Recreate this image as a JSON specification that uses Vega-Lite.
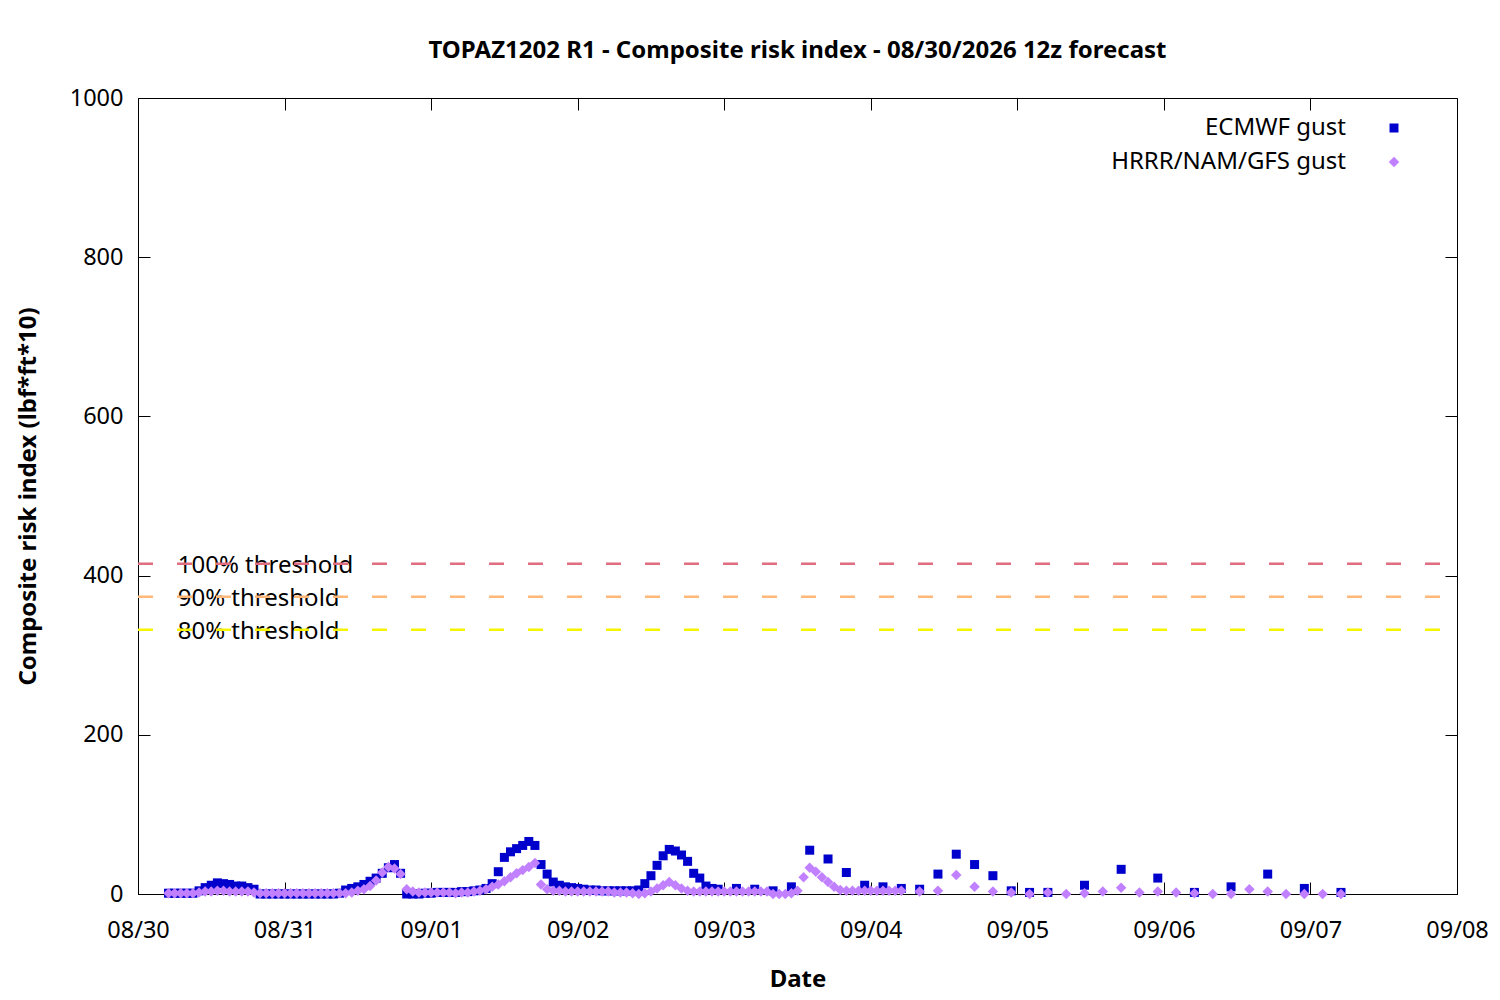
{
  "$schema": "https://vega.github.io/schema/vega-lite/v6.json",
  "title": {
    "text": "TOPAZ1202 R1 - Composite risk index - 08/30/2026 12z forecast",
    "font": "Noto Sans",
    "fontSize": 24,
    "fontWeight": "bold",
    "color": "black",
    "anchor": "middle",
    "offset": 23
  },
  "background": "white",
  "autosize": "none",
  "padding": {"left": 138, "top": 98, "right": 43, "bottom": 106},
  "width": 1319,
  "height": 796,
  "config": {
    "view": {"stroke": "black", "strokeWidth": 1},
    "axis": {
      "labelFont": "Noto Sans",
      "labelFontSize": 23.5,
      "labelColor": "black",
      "titleFont": "Noto Sans",
      "titleFontSize": 24,
      "titleFontWeight": "bold",
      "titleColor": "black",
      "domainColor": "black",
      "tickColor": "black",
      "tickSize": -12,
      "grid": false
    }
  },
  "datasets": {
    "gust": [
      {"t": "2026-08-30T05:00", "m": "ECMWF gust", "v": 1},
      {"t": "2026-08-30T06:00", "m": "ECMWF gust", "v": 1},
      {"t": "2026-08-30T07:00", "m": "ECMWF gust", "v": 1},
      {"t": "2026-08-30T08:00", "m": "ECMWF gust", "v": 1},
      {"t": "2026-08-30T09:00", "m": "ECMWF gust", "v": 1},
      {"t": "2026-08-30T10:00", "m": "ECMWF gust", "v": 4},
      {"t": "2026-08-30T11:00", "m": "ECMWF gust", "v": 8},
      {"t": "2026-08-30T12:00", "m": "ECMWF gust", "v": 11},
      {"t": "2026-08-30T13:00", "m": "ECMWF gust", "v": 14},
      {"t": "2026-08-30T14:00", "m": "ECMWF gust", "v": 13},
      {"t": "2026-08-30T15:00", "m": "ECMWF gust", "v": 12},
      {"t": "2026-08-30T16:00", "m": "ECMWF gust", "v": 10},
      {"t": "2026-08-30T17:00", "m": "ECMWF gust", "v": 10},
      {"t": "2026-08-30T18:00", "m": "ECMWF gust", "v": 8},
      {"t": "2026-08-30T19:00", "m": "ECMWF gust", "v": 6},
      {"t": "2026-08-30T20:00", "m": "ECMWF gust", "v": 0},
      {"t": "2026-08-30T21:00", "m": "ECMWF gust", "v": 0},
      {"t": "2026-08-30T22:00", "m": "ECMWF gust", "v": 0},
      {"t": "2026-08-30T23:00", "m": "ECMWF gust", "v": 0},
      {"t": "2026-08-31T00:00", "m": "ECMWF gust", "v": 0},
      {"t": "2026-08-31T01:00", "m": "ECMWF gust", "v": 0},
      {"t": "2026-08-31T02:00", "m": "ECMWF gust", "v": 0},
      {"t": "2026-08-31T03:00", "m": "ECMWF gust", "v": 0},
      {"t": "2026-08-31T04:00", "m": "ECMWF gust", "v": 0},
      {"t": "2026-08-31T05:00", "m": "ECMWF gust", "v": 0},
      {"t": "2026-08-31T06:00", "m": "ECMWF gust", "v": 0},
      {"t": "2026-08-31T07:00", "m": "ECMWF gust", "v": 0},
      {"t": "2026-08-31T08:00", "m": "ECMWF gust", "v": 0},
      {"t": "2026-08-31T09:00", "m": "ECMWF gust", "v": 1},
      {"t": "2026-08-31T10:00", "m": "ECMWF gust", "v": 5},
      {"t": "2026-08-31T11:00", "m": "ECMWF gust", "v": 7},
      {"t": "2026-08-31T12:00", "m": "ECMWF gust", "v": 9},
      {"t": "2026-08-31T13:00", "m": "ECMWF gust", "v": 12},
      {"t": "2026-08-31T14:00", "m": "ECMWF gust", "v": 16},
      {"t": "2026-08-31T15:00", "m": "ECMWF gust", "v": 20},
      {"t": "2026-08-31T16:00", "m": "ECMWF gust", "v": 26},
      {"t": "2026-08-31T17:00", "m": "ECMWF gust", "v": 33},
      {"t": "2026-08-31T18:00", "m": "ECMWF gust", "v": 37},
      {"t": "2026-08-31T19:00", "m": "ECMWF gust", "v": 26},
      {"t": "2026-08-31T20:00", "m": "ECMWF gust", "v": 0},
      {"t": "2026-08-31T21:00", "m": "ECMWF gust", "v": 0},
      {"t": "2026-08-31T22:00", "m": "ECMWF gust", "v": 0},
      {"t": "2026-08-31T23:00", "m": "ECMWF gust", "v": 1},
      {"t": "2026-09-01T00:00", "m": "ECMWF gust", "v": 1},
      {"t": "2026-09-01T01:00", "m": "ECMWF gust", "v": 2},
      {"t": "2026-09-01T02:00", "m": "ECMWF gust", "v": 2},
      {"t": "2026-09-01T03:00", "m": "ECMWF gust", "v": 2},
      {"t": "2026-09-01T04:00", "m": "ECMWF gust", "v": 2},
      {"t": "2026-09-01T05:00", "m": "ECMWF gust", "v": 3},
      {"t": "2026-09-01T06:00", "m": "ECMWF gust", "v": 3},
      {"t": "2026-09-01T07:00", "m": "ECMWF gust", "v": 4},
      {"t": "2026-09-01T08:00", "m": "ECMWF gust", "v": 5},
      {"t": "2026-09-01T09:00", "m": "ECMWF gust", "v": 7},
      {"t": "2026-09-01T10:00", "m": "ECMWF gust", "v": 13},
      {"t": "2026-09-01T11:00", "m": "ECMWF gust", "v": 28},
      {"t": "2026-09-01T12:00", "m": "ECMWF gust", "v": 46},
      {"t": "2026-09-01T13:00", "m": "ECMWF gust", "v": 53},
      {"t": "2026-09-01T14:00", "m": "ECMWF gust", "v": 57},
      {"t": "2026-09-01T15:00", "m": "ECMWF gust", "v": 61},
      {"t": "2026-09-01T16:00", "m": "ECMWF gust", "v": 66},
      {"t": "2026-09-01T17:00", "m": "ECMWF gust", "v": 61},
      {"t": "2026-09-01T18:00", "m": "ECMWF gust", "v": 37},
      {"t": "2026-09-01T19:00", "m": "ECMWF gust", "v": 25},
      {"t": "2026-09-01T20:00", "m": "ECMWF gust", "v": 15},
      {"t": "2026-09-01T21:00", "m": "ECMWF gust", "v": 11},
      {"t": "2026-09-01T22:00", "m": "ECMWF gust", "v": 9},
      {"t": "2026-09-01T23:00", "m": "ECMWF gust", "v": 8},
      {"t": "2026-09-02T00:00", "m": "ECMWF gust", "v": 7},
      {"t": "2026-09-02T01:00", "m": "ECMWF gust", "v": 6},
      {"t": "2026-09-02T02:00", "m": "ECMWF gust", "v": 5},
      {"t": "2026-09-02T03:00", "m": "ECMWF gust", "v": 5},
      {"t": "2026-09-02T04:00", "m": "ECMWF gust", "v": 4},
      {"t": "2026-09-02T05:00", "m": "ECMWF gust", "v": 4},
      {"t": "2026-09-02T06:00", "m": "ECMWF gust", "v": 4},
      {"t": "2026-09-02T07:00", "m": "ECMWF gust", "v": 4},
      {"t": "2026-09-02T08:00", "m": "ECMWF gust", "v": 4},
      {"t": "2026-09-02T09:00", "m": "ECMWF gust", "v": 4},
      {"t": "2026-09-02T10:00", "m": "ECMWF gust", "v": 5},
      {"t": "2026-09-02T11:00", "m": "ECMWF gust", "v": 13},
      {"t": "2026-09-02T12:00", "m": "ECMWF gust", "v": 23},
      {"t": "2026-09-02T13:00", "m": "ECMWF gust", "v": 36},
      {"t": "2026-09-02T14:00", "m": "ECMWF gust", "v": 48},
      {"t": "2026-09-02T15:00", "m": "ECMWF gust", "v": 56},
      {"t": "2026-09-02T16:00", "m": "ECMWF gust", "v": 54},
      {"t": "2026-09-02T17:00", "m": "ECMWF gust", "v": 49},
      {"t": "2026-09-02T18:00", "m": "ECMWF gust", "v": 41},
      {"t": "2026-09-02T19:00", "m": "ECMWF gust", "v": 26},
      {"t": "2026-09-02T20:00", "m": "ECMWF gust", "v": 20},
      {"t": "2026-09-02T21:00", "m": "ECMWF gust", "v": 10},
      {"t": "2026-09-02T22:00", "m": "ECMWF gust", "v": 7},
      {"t": "2026-09-02T23:00", "m": "ECMWF gust", "v": 6},
      {"t": "2026-09-03T02:00", "m": "ECMWF gust", "v": 7},
      {"t": "2026-09-03T05:00", "m": "ECMWF gust", "v": 6},
      {"t": "2026-09-03T08:00", "m": "ECMWF gust", "v": 4},
      {"t": "2026-09-03T11:00", "m": "ECMWF gust", "v": 9},
      {"t": "2026-09-03T14:00", "m": "ECMWF gust", "v": 55},
      {"t": "2026-09-03T17:00", "m": "ECMWF gust", "v": 44},
      {"t": "2026-09-03T20:00", "m": "ECMWF gust", "v": 27},
      {"t": "2026-09-03T23:00", "m": "ECMWF gust", "v": 11},
      {"t": "2026-09-04T02:00", "m": "ECMWF gust", "v": 9},
      {"t": "2026-09-04T05:00", "m": "ECMWF gust", "v": 7},
      {"t": "2026-09-04T08:00", "m": "ECMWF gust", "v": 6},
      {"t": "2026-09-04T11:00", "m": "ECMWF gust", "v": 25},
      {"t": "2026-09-04T14:00", "m": "ECMWF gust", "v": 50},
      {"t": "2026-09-04T17:00", "m": "ECMWF gust", "v": 37},
      {"t": "2026-09-04T20:00", "m": "ECMWF gust", "v": 23},
      {"t": "2026-09-04T23:00", "m": "ECMWF gust", "v": 4},
      {"t": "2026-09-05T02:00", "m": "ECMWF gust", "v": 2},
      {"t": "2026-09-05T05:00", "m": "ECMWF gust", "v": 2},
      {"t": "2026-09-05T11:00", "m": "ECMWF gust", "v": 11},
      {"t": "2026-09-05T17:00", "m": "ECMWF gust", "v": 31},
      {"t": "2026-09-05T23:00", "m": "ECMWF gust", "v": 20},
      {"t": "2026-09-06T05:00", "m": "ECMWF gust", "v": 2},
      {"t": "2026-09-06T11:00", "m": "ECMWF gust", "v": 9},
      {"t": "2026-09-06T17:00", "m": "ECMWF gust", "v": 25},
      {"t": "2026-09-06T23:00", "m": "ECMWF gust", "v": 7},
      {"t": "2026-09-07T05:00", "m": "ECMWF gust", "v": 2},
      {"t": "2026-08-30T05:00", "m": "HRRR/NAM/GFS gust", "v": 1},
      {"t": "2026-08-30T06:00", "m": "HRRR/NAM/GFS gust", "v": 1},
      {"t": "2026-08-30T07:00", "m": "HRRR/NAM/GFS gust", "v": 1},
      {"t": "2026-08-30T08:00", "m": "HRRR/NAM/GFS gust", "v": 1},
      {"t": "2026-08-30T09:00", "m": "HRRR/NAM/GFS gust", "v": 1},
      {"t": "2026-08-30T10:00", "m": "HRRR/NAM/GFS gust", "v": 2},
      {"t": "2026-08-30T11:00", "m": "HRRR/NAM/GFS gust", "v": 3},
      {"t": "2026-08-30T12:00", "m": "HRRR/NAM/GFS gust", "v": 3},
      {"t": "2026-08-30T13:00", "m": "HRRR/NAM/GFS gust", "v": 4},
      {"t": "2026-08-30T14:00", "m": "HRRR/NAM/GFS gust", "v": 4},
      {"t": "2026-08-30T15:00", "m": "HRRR/NAM/GFS gust", "v": 3},
      {"t": "2026-08-30T16:00", "m": "HRRR/NAM/GFS gust", "v": 3},
      {"t": "2026-08-30T17:00", "m": "HRRR/NAM/GFS gust", "v": 3},
      {"t": "2026-08-30T18:00", "m": "HRRR/NAM/GFS gust", "v": 3},
      {"t": "2026-08-30T19:00", "m": "HRRR/NAM/GFS gust", "v": 2},
      {"t": "2026-08-30T20:00", "m": "HRRR/NAM/GFS gust", "v": 1},
      {"t": "2026-08-30T21:00", "m": "HRRR/NAM/GFS gust", "v": 1},
      {"t": "2026-08-30T22:00", "m": "HRRR/NAM/GFS gust", "v": 1},
      {"t": "2026-08-30T23:00", "m": "HRRR/NAM/GFS gust", "v": 1},
      {"t": "2026-08-31T00:00", "m": "HRRR/NAM/GFS gust", "v": 1},
      {"t": "2026-08-31T01:00", "m": "HRRR/NAM/GFS gust", "v": 1},
      {"t": "2026-08-31T02:00", "m": "HRRR/NAM/GFS gust", "v": 1},
      {"t": "2026-08-31T03:00", "m": "HRRR/NAM/GFS gust", "v": 1},
      {"t": "2026-08-31T04:00", "m": "HRRR/NAM/GFS gust", "v": 1},
      {"t": "2026-08-31T05:00", "m": "HRRR/NAM/GFS gust", "v": 1},
      {"t": "2026-08-31T06:00", "m": "HRRR/NAM/GFS gust", "v": 1},
      {"t": "2026-08-31T07:00", "m": "HRRR/NAM/GFS gust", "v": 1},
      {"t": "2026-08-31T08:00", "m": "HRRR/NAM/GFS gust", "v": 1},
      {"t": "2026-08-31T09:00", "m": "HRRR/NAM/GFS gust", "v": 1},
      {"t": "2026-08-31T10:00", "m": "HRRR/NAM/GFS gust", "v": 1},
      {"t": "2026-08-31T11:00", "m": "HRRR/NAM/GFS gust", "v": 2},
      {"t": "2026-08-31T12:00", "m": "HRRR/NAM/GFS gust", "v": 4},
      {"t": "2026-08-31T13:00", "m": "HRRR/NAM/GFS gust", "v": 6},
      {"t": "2026-08-31T14:00", "m": "HRRR/NAM/GFS gust", "v": 10},
      {"t": "2026-08-31T15:00", "m": "HRRR/NAM/GFS gust", "v": 17},
      {"t": "2026-08-31T16:00", "m": "HRRR/NAM/GFS gust", "v": 27},
      {"t": "2026-08-31T17:00", "m": "HRRR/NAM/GFS gust", "v": 34},
      {"t": "2026-08-31T18:00", "m": "HRRR/NAM/GFS gust", "v": 32},
      {"t": "2026-08-31T19:00", "m": "HRRR/NAM/GFS gust", "v": 25},
      {"t": "2026-08-31T20:00", "m": "HRRR/NAM/GFS gust", "v": 6},
      {"t": "2026-08-31T21:00", "m": "HRRR/NAM/GFS gust", "v": 3},
      {"t": "2026-08-31T22:00", "m": "HRRR/NAM/GFS gust", "v": 2},
      {"t": "2026-08-31T23:00", "m": "HRRR/NAM/GFS gust", "v": 2},
      {"t": "2026-09-01T00:00", "m": "HRRR/NAM/GFS gust", "v": 2},
      {"t": "2026-09-01T01:00", "m": "HRRR/NAM/GFS gust", "v": 2},
      {"t": "2026-09-01T02:00", "m": "HRRR/NAM/GFS gust", "v": 2},
      {"t": "2026-09-01T03:00", "m": "HRRR/NAM/GFS gust", "v": 2},
      {"t": "2026-09-01T04:00", "m": "HRRR/NAM/GFS gust", "v": 1},
      {"t": "2026-09-01T05:00", "m": "HRRR/NAM/GFS gust", "v": 2},
      {"t": "2026-09-01T06:00", "m": "HRRR/NAM/GFS gust", "v": 2},
      {"t": "2026-09-01T07:00", "m": "HRRR/NAM/GFS gust", "v": 3},
      {"t": "2026-09-01T08:00", "m": "HRRR/NAM/GFS gust", "v": 4},
      {"t": "2026-09-01T09:00", "m": "HRRR/NAM/GFS gust", "v": 6},
      {"t": "2026-09-01T10:00", "m": "HRRR/NAM/GFS gust", "v": 9},
      {"t": "2026-09-01T11:00", "m": "HRRR/NAM/GFS gust", "v": 12},
      {"t": "2026-09-01T12:00", "m": "HRRR/NAM/GFS gust", "v": 16},
      {"t": "2026-09-01T13:00", "m": "HRRR/NAM/GFS gust", "v": 21},
      {"t": "2026-09-01T14:00", "m": "HRRR/NAM/GFS gust", "v": 26},
      {"t": "2026-09-01T15:00", "m": "HRRR/NAM/GFS gust", "v": 30},
      {"t": "2026-09-01T16:00", "m": "HRRR/NAM/GFS gust", "v": 34},
      {"t": "2026-09-01T17:00", "m": "HRRR/NAM/GFS gust", "v": 39},
      {"t": "2026-09-01T18:00", "m": "HRRR/NAM/GFS gust", "v": 12},
      {"t": "2026-09-01T19:00", "m": "HRRR/NAM/GFS gust", "v": 6},
      {"t": "2026-09-01T20:00", "m": "HRRR/NAM/GFS gust", "v": 4},
      {"t": "2026-09-01T21:00", "m": "HRRR/NAM/GFS gust", "v": 4},
      {"t": "2026-09-01T22:00", "m": "HRRR/NAM/GFS gust", "v": 3},
      {"t": "2026-09-01T23:00", "m": "HRRR/NAM/GFS gust", "v": 3},
      {"t": "2026-09-02T00:00", "m": "HRRR/NAM/GFS gust", "v": 3},
      {"t": "2026-09-02T01:00", "m": "HRRR/NAM/GFS gust", "v": 3},
      {"t": "2026-09-02T02:00", "m": "HRRR/NAM/GFS gust", "v": 3},
      {"t": "2026-09-02T03:00", "m": "HRRR/NAM/GFS gust", "v": 3},
      {"t": "2026-09-02T04:00", "m": "HRRR/NAM/GFS gust", "v": 3},
      {"t": "2026-09-02T05:00", "m": "HRRR/NAM/GFS gust", "v": 3},
      {"t": "2026-09-02T06:00", "m": "HRRR/NAM/GFS gust", "v": 2},
      {"t": "2026-09-02T07:00", "m": "HRRR/NAM/GFS gust", "v": 2},
      {"t": "2026-09-02T08:00", "m": "HRRR/NAM/GFS gust", "v": 2},
      {"t": "2026-09-02T09:00", "m": "HRRR/NAM/GFS gust", "v": 1},
      {"t": "2026-09-02T10:00", "m": "HRRR/NAM/GFS gust", "v": 0},
      {"t": "2026-09-02T11:00", "m": "HRRR/NAM/GFS gust", "v": 1},
      {"t": "2026-09-02T12:00", "m": "HRRR/NAM/GFS gust", "v": 3},
      {"t": "2026-09-02T13:00", "m": "HRRR/NAM/GFS gust", "v": 7},
      {"t": "2026-09-02T14:00", "m": "HRRR/NAM/GFS gust", "v": 11},
      {"t": "2026-09-02T15:00", "m": "HRRR/NAM/GFS gust", "v": 15},
      {"t": "2026-09-02T16:00", "m": "HRRR/NAM/GFS gust", "v": 11},
      {"t": "2026-09-02T17:00", "m": "HRRR/NAM/GFS gust", "v": 7},
      {"t": "2026-09-02T18:00", "m": "HRRR/NAM/GFS gust", "v": 4},
      {"t": "2026-09-02T19:00", "m": "HRRR/NAM/GFS gust", "v": 3},
      {"t": "2026-09-02T20:00", "m": "HRRR/NAM/GFS gust", "v": 3},
      {"t": "2026-09-02T21:00", "m": "HRRR/NAM/GFS gust", "v": 3},
      {"t": "2026-09-02T22:00", "m": "HRRR/NAM/GFS gust", "v": 3},
      {"t": "2026-09-02T23:00", "m": "HRRR/NAM/GFS gust", "v": 3},
      {"t": "2026-09-03T00:00", "m": "HRRR/NAM/GFS gust", "v": 3},
      {"t": "2026-09-03T01:00", "m": "HRRR/NAM/GFS gust", "v": 3},
      {"t": "2026-09-03T02:00", "m": "HRRR/NAM/GFS gust", "v": 3},
      {"t": "2026-09-03T03:00", "m": "HRRR/NAM/GFS gust", "v": 3},
      {"t": "2026-09-03T04:00", "m": "HRRR/NAM/GFS gust", "v": 3},
      {"t": "2026-09-03T05:00", "m": "HRRR/NAM/GFS gust", "v": 3},
      {"t": "2026-09-03T06:00", "m": "HRRR/NAM/GFS gust", "v": 3},
      {"t": "2026-09-03T07:00", "m": "HRRR/NAM/GFS gust", "v": 3},
      {"t": "2026-09-03T08:00", "m": "HRRR/NAM/GFS gust", "v": 0},
      {"t": "2026-09-03T09:00", "m": "HRRR/NAM/GFS gust", "v": 0},
      {"t": "2026-09-03T10:00", "m": "HRRR/NAM/GFS gust", "v": 0},
      {"t": "2026-09-03T11:00", "m": "HRRR/NAM/GFS gust", "v": 1},
      {"t": "2026-09-03T12:00", "m": "HRRR/NAM/GFS gust", "v": 4},
      {"t": "2026-09-03T13:00", "m": "HRRR/NAM/GFS gust", "v": 21},
      {"t": "2026-09-03T14:00", "m": "HRRR/NAM/GFS gust", "v": 33},
      {"t": "2026-09-03T15:00", "m": "HRRR/NAM/GFS gust", "v": 28},
      {"t": "2026-09-03T16:00", "m": "HRRR/NAM/GFS gust", "v": 21},
      {"t": "2026-09-03T17:00", "m": "HRRR/NAM/GFS gust", "v": 15},
      {"t": "2026-09-03T18:00", "m": "HRRR/NAM/GFS gust", "v": 9},
      {"t": "2026-09-03T19:00", "m": "HRRR/NAM/GFS gust", "v": 5},
      {"t": "2026-09-03T20:00", "m": "HRRR/NAM/GFS gust", "v": 4},
      {"t": "2026-09-03T21:00", "m": "HRRR/NAM/GFS gust", "v": 4},
      {"t": "2026-09-03T22:00", "m": "HRRR/NAM/GFS gust", "v": 4},
      {"t": "2026-09-03T23:00", "m": "HRRR/NAM/GFS gust", "v": 4},
      {"t": "2026-09-04T00:00", "m": "HRRR/NAM/GFS gust", "v": 4},
      {"t": "2026-09-04T01:00", "m": "HRRR/NAM/GFS gust", "v": 4},
      {"t": "2026-09-04T02:00", "m": "HRRR/NAM/GFS gust", "v": 4},
      {"t": "2026-09-04T03:00", "m": "HRRR/NAM/GFS gust", "v": 4},
      {"t": "2026-09-04T04:00", "m": "HRRR/NAM/GFS gust", "v": 4},
      {"t": "2026-09-04T05:00", "m": "HRRR/NAM/GFS gust", "v": 4},
      {"t": "2026-09-04T08:00", "m": "HRRR/NAM/GFS gust", "v": 3},
      {"t": "2026-09-04T11:00", "m": "HRRR/NAM/GFS gust", "v": 4},
      {"t": "2026-09-04T14:00", "m": "HRRR/NAM/GFS gust", "v": 24},
      {"t": "2026-09-04T17:00", "m": "HRRR/NAM/GFS gust", "v": 9},
      {"t": "2026-09-04T20:00", "m": "HRRR/NAM/GFS gust", "v": 3},
      {"t": "2026-09-04T23:00", "m": "HRRR/NAM/GFS gust", "v": 2},
      {"t": "2026-09-05T02:00", "m": "HRRR/NAM/GFS gust", "v": 0},
      {"t": "2026-09-05T05:00", "m": "HRRR/NAM/GFS gust", "v": 2},
      {"t": "2026-09-05T08:00", "m": "HRRR/NAM/GFS gust", "v": 0},
      {"t": "2026-09-05T11:00", "m": "HRRR/NAM/GFS gust", "v": 1},
      {"t": "2026-09-05T14:00", "m": "HRRR/NAM/GFS gust", "v": 3},
      {"t": "2026-09-05T17:00", "m": "HRRR/NAM/GFS gust", "v": 8},
      {"t": "2026-09-05T20:00", "m": "HRRR/NAM/GFS gust", "v": 2},
      {"t": "2026-09-05T23:00", "m": "HRRR/NAM/GFS gust", "v": 3},
      {"t": "2026-09-06T02:00", "m": "HRRR/NAM/GFS gust", "v": 2},
      {"t": "2026-09-06T05:00", "m": "HRRR/NAM/GFS gust", "v": 1},
      {"t": "2026-09-06T08:00", "m": "HRRR/NAM/GFS gust", "v": 0},
      {"t": "2026-09-06T11:00", "m": "HRRR/NAM/GFS gust", "v": 0},
      {"t": "2026-09-06T14:00", "m": "HRRR/NAM/GFS gust", "v": 6},
      {"t": "2026-09-06T17:00", "m": "HRRR/NAM/GFS gust", "v": 3},
      {"t": "2026-09-06T20:00", "m": "HRRR/NAM/GFS gust", "v": 0},
      {"t": "2026-09-06T23:00", "m": "HRRR/NAM/GFS gust", "v": 0},
      {"t": "2026-09-07T02:00", "m": "HRRR/NAM/GFS gust", "v": 0},
      {"t": "2026-09-07T05:00", "m": "HRRR/NAM/GFS gust", "v": 0}
    ],
    "thresholds": [
      {"label": "100% threshold", "v": 415},
      {"label": "90% threshold", "v": 373.5},
      {"label": "80% threshold", "v": 332}
    ]
  },
  "resolve": {"axis": {"x": "independent", "y": "independent"}},
  "layer": [
    {
      "data": {"name": "gust"},
      "mark": {"type": "point", "filled": true, "opacity": 1, "strokeWidth": 0},
      "encoding": {
        "x": {
          "field": "t",
          "type": "temporal",
          "title": "Date",
          "scale": {
            "domain": [
              {"year": 2026, "month": 8, "date": 30},
              {"year": 2026, "month": 9, "date": 8}
            ],
            "nice": false
          },
          "axis": {
            "orient": "bottom",
            "format": "%m/%d",
            "tickCount": {"interval": "day", "step": 1},
            "labelAngle": 0,
            "labelFlush": false,
            "labelOverlap": false,
            "labelPadding": 36,
            "titlePadding": 26
          }
        },
        "y": {
          "field": "v",
          "type": "quantitative",
          "title": "Composite risk index (lbf*ft*10)",
          "scale": {"domain": [0, 1000], "nice": false},
          "axis": {
            "orient": "left",
            "format": "d",
            "values": [0, 200, 400, 600, 800, 1000],
            "labelPadding": 27,
            "titlePadding": 29
          }
        },
        "color": {
          "field": "m",
          "type": "nominal",
          "scale": {
            "domain": ["ECMWF gust", "HRRR/NAM/GFS gust"],
            "range": ["#0000cc", "#c080ff"]
          },
          "legend": {
            "title": null,
            "orient": "none",
            "legendX": 1244,
            "legendY": 18,
            "padding": 0,
            "labelFont": "Noto Sans",
            "labelFontSize": 24,
            "labelColor": "black",
            "labelLimit": 400,
            "labelAlign": "right",
            "labelOffset": -60,
            "symbolOffset": 0,
            "rowPadding": 10
          }
        },
        "shape": {
          "field": "m",
          "type": "nominal",
          "scale": {
            "domain": ["ECMWF gust", "HRRR/NAM/GFS gust"],
            "range": ["square", "diamond"]
          }
        },
        "size": {
          "field": "m",
          "type": "nominal",
          "scale": {
            "domain": ["ECMWF gust", "HRRR/NAM/GFS gust"],
            "range": [81, 110]
          }
        }
      }
    },
    {
      "data": {"name": "thresholds"},
      "mark": {
        "type": "text",
        "align": "left",
        "baseline": "middle",
        "dy": 2,
        "font": "Noto Sans",
        "fontSize": 24,
        "color": "black"
      },
      "encoding": {
        "x": {
          "datum": {"year": 2026, "month": 8, "date": 30, "hours": 6, "minutes": 30},
          "type": "temporal",
          "axis": {
            "orient": "top",
            "title": null,
            "labels": false,
            "domain": false,
            "tickCount": {"interval": "day", "step": 1}
          }
        },
        "y": {
          "field": "v",
          "type": "quantitative",
          "axis": {
            "orient": "right",
            "title": null,
            "labels": false,
            "domain": false,
            "values": [0, 200, 400, 600, 800, 1000]
          }
        },
        "text": {"field": "label"}
      }
    },
    {
      "data": {"name": "thresholds"},
      "mark": {"type": "rule", "strokeWidth": 2.5, "strokeDash": [15, 24], "strokeDashOffset": 22},
      "encoding": {
        "y": {"field": "v", "type": "quantitative", "axis": null},
        "stroke": {
          "field": "label",
          "type": "nominal",
          "scale": {
            "domain": ["100% threshold", "90% threshold", "80% threshold"],
            "range": ["#e06d80", "#ffb87a", "#f5f500"]
          },
          "legend": null
        }
      }
    }
  ]
}
